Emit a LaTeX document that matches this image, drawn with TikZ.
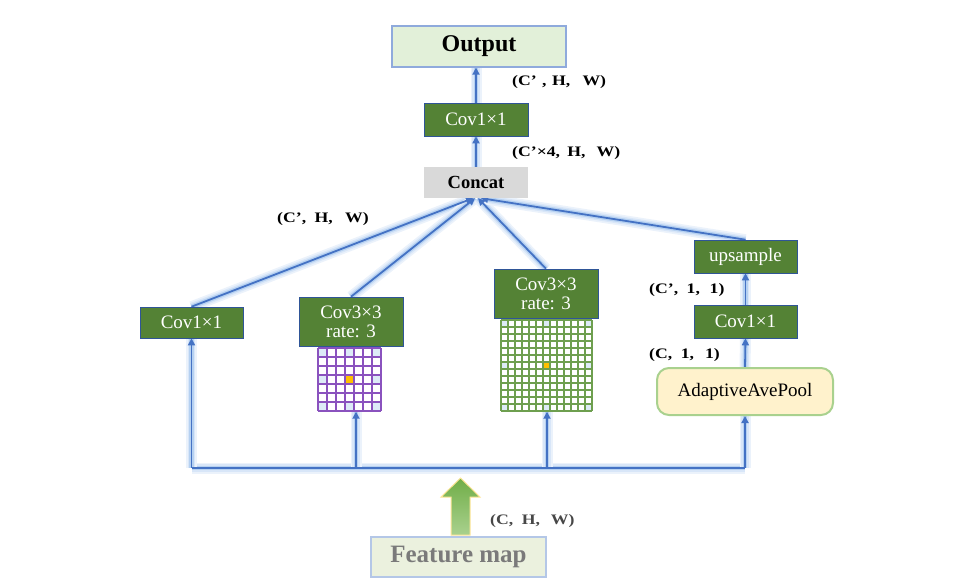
\documentclass[tikz,border=0pt]{standalone}
\usepackage{fontspec}
\setmainfont{Liberation Serif}
\usetikzlibrary{arrows.meta,calc}
\pgfdeclarelayer{glow}
\pgfdeclarelayer{lines}
\pgfsetlayers{glow,lines,main}
\definecolor{boxgreen}{HTML}{548235}
\definecolor{boxedge}{HTML}{2F5597}
\definecolor{linec}{HTML}{4472C4}
\definecolor{glowc}{HTML}{8FB8EA}
\definecolor{outfill}{HTML}{E2F0D9}
\definecolor{outedge}{HTML}{8FAADC}
\definecolor{catfill}{HTML}{D9D9D9}
\definecolor{poolfill}{HTML}{FFF2CC}
\definecolor{pooledge}{HTML}{A9D18E}
\definecolor{featfill}{HTML}{EBF1DE}
\definecolor{featedge}{HTML}{B4C7E7}
\definecolor{gridpurple}{HTML}{8A52BE}
\definecolor{gridgreen}{HTML}{6E9F4F}
\definecolor{celblue}{HTML}{DDEBF7}
\definecolor{celorange}{HTML}{FFC000}
\definecolor{arrtop}{HTML}{70AD47}
\definecolor{arrbot}{HTML}{A9D18E}
\definecolor{arredge}{HTML}{FFE699}
\newcommand{\labtext}[1]{\scalebox{1.22}[1]{#1}}
% draw a glowing connector: glow on a lower layer, the line above it
\newcommand{\linkit}[3][]{%
  \begin{pgfonlayer}{glow}\draw[glowline] #2 -- #3;\end{pgfonlayer}%
  \begin{pgfonlayer}{lines}\draw[mainline,#1] #2 -- #3;\end{pgfonlayer}}
\begin{document}
\begin{tikzpicture}[x=1pt,y=-1pt,
  gbox/.style={draw=boxedge, line width=0.6pt, fill=boxgreen, text=white,
    font=\fontsize{19}{21}\selectfont, inner sep=0pt, align=center},
  glowline/.style={draw=glowc!18, line width=11pt,
    postaction={draw=glowc!35, line width=7.5pt},
    postaction={draw=glowc!65, line width=4.5pt}},
  mainline/.style={draw=linec, line width=1.8pt},
  tip/.style={-{Triangle[length=7pt,width=7pt]}},
  lab/.style={font=\bfseries\fontsize{14.5}{16}\selectfont, inner sep=0pt, anchor=west},
  gridp/.style={draw=gridpurple, line width=2pt},
  gridg/.style={draw=gridgreen, line width=2pt}
]
\useasboundingbox (0,0) rectangle (968,587);

% nodes
\node (out) [draw=outedge, line width=1.2pt, fill=outfill, minimum width=174, minimum height=41,
  font=\bfseries\fontsize{24}{26}\selectfont, inner sep=0pt] at (479,46.5) {Output};
\node (c1) [gbox, minimum width=104, minimum height=33] at (476,119.5) {Cov1×1};
\node (cat) [fill=catfill, minimum width=104, minimum height=31, inner sep=0pt,
  font=\bfseries\fontsize{18.5}{20}\selectfont] at (476,182.5) {Concat};
\node (c1l) [gbox, minimum width=103, minimum height=31] at (191.5,322.5) {Cov1×1};
\node (c3l) [gbox, minimum width=104, minimum height=49] at (351,321.5) {Cov3×3\\[-2pt]rate: 3};
\node (c3r) [gbox, minimum width=104, minimum height=49] at (546,293.5) {Cov3×3\\[-2pt]rate: 3};
\node (ups) [gbox, minimum width=103, minimum height=33] at (745.5,256.5) {upsample};
\node (c1r) [gbox, minimum width=103, minimum height=33] at (745.5,321.5) {Cov1×1};
\node (pool) [draw=pooledge, line width=2pt, fill=poolfill, rounded corners=12pt,
  minimum width=176, minimum height=47, inner sep=0pt,
  font=\fontsize{19}{21}\selectfont] at (745,391.5) {AdaptiveAvePool};
\node (feat) [draw=featedge, line width=1.5pt, fill=featfill, minimum width=175, minimum height=40,
  inner sep=0pt, text=black!52, font=\bfseries\fontsize{25}{27}\selectfont] at (458.5,557) {Feature map};

% grids (whole-pixel cells so that every line renders alike)
\node (pg) [minimum width=63, minimum height=63, inner sep=0pt] at (350,380) {};
\node (gg) [minimum width=91, minimum height=91, inner sep=0pt] at (547,366) {};
\foreach \i in {0,3,6}{\foreach \j in {0,3,6}{
  \fill[celblue] ($(pg.north west)+(\i*9,\j*9)$) rectangle ++(9,9);}}
\fill[celorange] ($(pg.north west)+(27,27)$) rectangle ++(9,9);
\foreach \k in {0,...,7}{
  \draw[gridp] ($(pg.north west)+(\k*9,0)$) -- ++(0,63);
  \draw[gridp] ($(pg.north west)+(0,\k*9)$) -- ++(63,0);}

\foreach \i in {0,6,12}{\foreach \j in {0,6,12}{
  \fill[celblue] ($(gg.north west)+(\i*7,\j*7)$) rectangle ++(7,7);}}
\fill[celorange] ($(gg.north west)+(42,42)$) rectangle ++(7,7);
\foreach \k in {0,...,13}{
  \draw[gridg] ($(gg.north west)+(\k*7,0)$) -- ++(0,91);
  \draw[gridg] ($(gg.north west)+(0,\k*7)$) -- ++(91,0);}

% labels
\node (l1) [lab] at (512,82) {\labtext{(C’\hspace{4.5pt},\hspace{4.5pt}H,\hspace{10pt}W)}};
\node (l2) [lab] at (512,153) {\labtext{(C’×4,\hspace{6pt}H,\hspace{9pt}W)}};
\node (l3) [lab] at (277,219) {\labtext{(C’,\hspace{7pt}H,\hspace{10pt}W)}};
\node (l4) [lab] at (649,290) {\labtext{(C’,\hspace{7pt}1,\hspace{8pt}1)}};
\node (l5) [lab] at (649,355) {\labtext{(C,\hspace{7pt}1,\hspace{9pt}1)}};
\node (l6) [lab, text=black!72] at (490,521) {\labtext{(C,\hspace{7pt}H,\hspace{9pt}W)}};

% connectors
\coordinate (e1) at ($(cat.south)+(-3,0)$);
\coordinate (e2) at ($(cat.south)+(-1,0)$);
\coordinate (e3) at ($(cat.south)+(2,0)$);
\coordinate (e4) at ($(cat.south)+(5,0)$);
\coordinate (bus) at (0,468);
\coordinate (pgin) at ($(pg.south)+(6,0)$);
\coordinate (outin) at (c1.north |- out.south);

\linkit[tip]{(cat.north)}{(c1.south)}
\linkit[tip]{(c1.north)}{(outin)}
\linkit[tip]{(c1l.north)}{(e1)}
\linkit[tip]{(c3l.north)}{(e2)}
\linkit[tip]{(c3r.north)}{(e3)}
\linkit[tip]{(ups.north)}{(e4)}
\linkit[tip]{(c1r.north)}{(ups.south)}
\linkit[tip]{(pool.north)}{(c1r.south)}
\linkit{(c1l.south |- bus)}{(pool.south |- bus)}
\linkit[tip]{(c1l.south |- bus)}{(c1l.south)}
\linkit[tip]{(pgin |- bus)}{(pgin)}
\linkit[tip]{(gg.south |- bus)}{(gg.south)}
\linkit[tip]{(pool.south |- bus)}{(pool.south)}

% big input arrow
\shade[top color=arrtop, bottom color=arrbot, draw=arredge, line width=1pt]
  (460.5,478) -- (480,497) -- (470,497) -- (470,535) -- (451,535) -- (451,497) -- (441,497) -- cycle;
\end{tikzpicture}
\end{document}
